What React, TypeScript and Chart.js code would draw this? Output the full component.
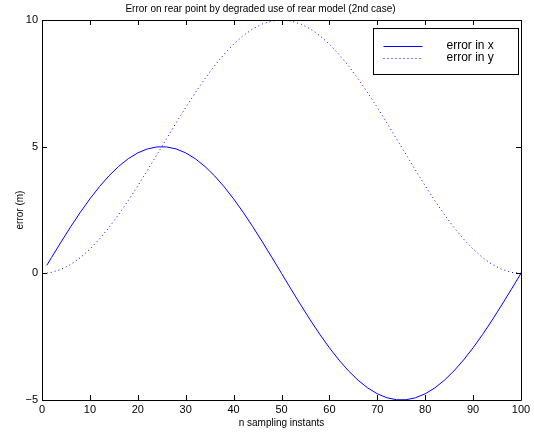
import React, { useEffect, useRef } from "react";
import { Chart, registerables } from "chart.js";

Chart.register(...registerables);

const titleText = "Error on rear point by degraded use of rear model (2nd case)";
const xAxisLabel = "n sampling instants";
const yAxisLabel = "error (m)";
const seriesLabels = ["error in x", "error in y"];

const xTickValues = [0, 10, 20, 30, 40, 50, 60, 70, 80, 90, 100];
const yTickValues = [-5, 0, 5, 10];

const samples = [
  1, 2, 4, 6, 8, 10, 12, 14, 16, 18, 20, 22, 24, 26, 28, 30, 32, 34, 36, 38, 40, 42, 44, 46, 48, 50,
  52, 54, 56, 58, 60, 62, 64, 66, 68, 70, 72, 74, 76, 78, 80, 82, 84, 86, 88, 90, 92, 94, 96, 98, 100,
];

const errorX = [
  0.314, 0.627, 1.243, 1.841, 2.409, 2.939, 3.423, 3.852, 4.222, 4.524, 4.755, 4.911, 4.99,
  4.99, 4.911, 4.755, 4.524, 4.222, 3.852, 3.423, 2.939, 2.409, 1.841, 1.243, 0.627, 0,
  -0.627, -1.243, -1.841, -2.409, -2.939, -3.423, -3.852, -4.222, -4.524, -4.755, -4.911, -4.99,
  -4.99, -4.911, -4.755, -4.524, -4.222, -3.852, -3.423, -2.939, -2.409, -1.841, -1.243, -0.627, 0,
];

const errorY = [
  0.01, 0.039, 0.157, 0.351, 0.618, 0.955, 1.355, 1.813, 2.321, 2.871, 3.455, 4.063, 4.686,
  5.314, 5.937, 6.545, 7.129, 7.679, 8.187, 8.645, 9.045, 9.382, 9.649, 9.843, 9.961, 10,
  9.961, 9.843, 9.649, 9.382, 9.045, 8.645, 8.187, 7.679, 7.129, 6.545, 5.937, 5.314,
  4.686, 4.063, 3.455, 2.871, 2.321, 1.813, 1.355, 0.955, 0.618, 0.351, 0.157, 0.039, 0,
];

const FONT = "'Liberation Sans', Arial, Helvetica, sans-serif";
const BLUE = "#0000ff";
const seriesDashes = [[], [1, 3]];

const boxPlugin = {
  id: "matlabBox",
  afterDatasetsDraw(chart: any) {
    const { ctx, chartArea, scales } = chart;
    const { left, right, top, bottom } = chartArea;
    ctx.save();
    ctx.strokeStyle = "#000";
    ctx.lineWidth = 1;
    ctx.setLineDash([]);
    ctx.beginPath();
    ctx.rect(Math.round(left) + 0.5, Math.round(top) + 0.5, Math.round(right - left), Math.round(bottom - top));
    ctx.stroke();
    const tl = 5;
    ctx.beginPath();
    for (const v of xTickValues) {
      const x = Math.round(scales.x.getPixelForValue(v)) + 0.5;
      ctx.moveTo(x, bottom);
      ctx.lineTo(x, bottom - tl);
      ctx.moveTo(x, top);
      ctx.lineTo(x, top + tl);
    }
    for (const v of yTickValues) {
      const y = Math.round(scales.y.getPixelForValue(v)) + 0.5;
      ctx.moveTo(left, y);
      ctx.lineTo(left + tl, y);
      ctx.moveTo(right, y);
      ctx.lineTo(right - tl, y);
    }
    ctx.stroke();

    // legend
    const bw = 145;
    const bh = 46;
    const bx = Math.round(right) - 3 - bw + 0.5;
    const by = Math.round(top) + 8 + 0.5;
    ctx.fillStyle = "#fff";
    ctx.fillRect(bx, by, bw, bh);
    ctx.strokeStyle = "#000";
    ctx.strokeRect(bx, by, bw, bh);
    const rows = [Math.round(top) + 26, Math.round(top) + 38];
    for (let i = 0; i < seriesLabels.length; i++) {
      const y = rows[i] + 0.5;
      ctx.beginPath();
      ctx.strokeStyle = BLUE;
      ctx.lineWidth = 1;
      ctx.setLineDash(seriesDashes[i]);
      ctx.moveTo(bx + 10, y);
      ctx.lineTo(bx + 49, y);
      ctx.stroke();
      ctx.setLineDash([]);
      ctx.fillStyle = "#000";
      ctx.font = `12px ${FONT}`;
      ctx.textBaseline = "middle";
      ctx.textAlign = "left";
      ctx.fillText(seriesLabels[i], bx + 73, rows[i]);
    }
    ctx.restore();
  },
};

export default function App() {
  const ref = useRef<HTMLCanvasElement | null>(null);
  useEffect(() => {
    if (!ref.current) return;
    const chart = new Chart(ref.current, {
      type: "line",
      data: {
        datasets: [
          {
            label: seriesLabels[0],
            data: samples.map((n, i) => ({ x: n, y: errorX[i] })),
            borderColor: BLUE,
            borderWidth: 1,
            borderDash: seriesDashes[0],
            pointRadius: 0,
            fill: false,
            tension: 0,
          },
          {
            label: seriesLabels[1],
            data: samples.map((n, i) => ({ x: n, y: errorY[i] })),
            borderColor: BLUE,
            borderWidth: 1,
            borderDash: seriesDashes[1],
            pointRadius: 0,
            fill: false,
            tension: 0,
          },
        ],
      },
      options: {
        animation: false,
        responsive: false,
        maintainAspectRatio: false,
        layout: { padding: { left: 0, right: 13, top: 0, bottom: 0 } },
        plugins: {
          legend: { display: false },
          tooltip: { enabled: false },
          title: {
            display: true,
            text: titleText,
            color: "#000",
            font: { family: FONT, size: 10, weight: "normal" },
            padding: { top: 3, bottom: 5 },
          },
        },
        scales: {
          x: {
            type: "linear",
            min: 0,
            max: 100,
            afterBuildTicks: (axis: any) => {
              axis.ticks = xTickValues.map((v) => ({ value: v }));
            },
            afterFit: (axis: any) => {
              axis.height = 32;
            },
            grid: { display: false, drawTicks: false },
            border: { display: false },
            ticks: {
              color: "#000",
              font: { family: FONT, size: 11 },
              padding: 3,
              maxRotation: 0,
              autoSkip: false,
            },
            title: {
              display: true,
              text: xAxisLabel,
              color: "#000",
              font: { family: FONT, size: 10 },
              padding: { top: 0, bottom: 3 },
            },
          },
          y: {
            type: "linear",
            min: -5,
            max: 10,
            afterBuildTicks: (axis: any) => {
              axis.ticks = yTickValues.map((v) => ({ value: v }));
            },
            afterFit: (axis: any) => {
              axis.width = 42;
            },
            grid: { display: false, drawTicks: false },
            border: { display: false },
            ticks: {
              color: "#000",
              font: { family: FONT, size: 11 },
              padding: 4,
              autoSkip: false,
              callback: (v: any) => (Number(v) < 0 ? "\u2212" + Math.abs(Number(v)) : String(v)),
            },
            title: {
              display: true,
              text: yAxisLabel,
              color: "#000",
              font: { family: FONT, size: 10 },
              padding: { top: 14, bottom: 0 },
            },
          },
        },
      },
      plugins: [boxPlugin],
    });
    return () => chart.destroy();
  }, []);
  return (
    <div style={{ position: "fixed", left: 0, top: 0, width: 534, height: 432, background: "#fff" }}>
      <canvas ref={ref} width={534} height={432} style={{ width: 534, height: 432, display: "block" }} />
    </div>
  );
}
